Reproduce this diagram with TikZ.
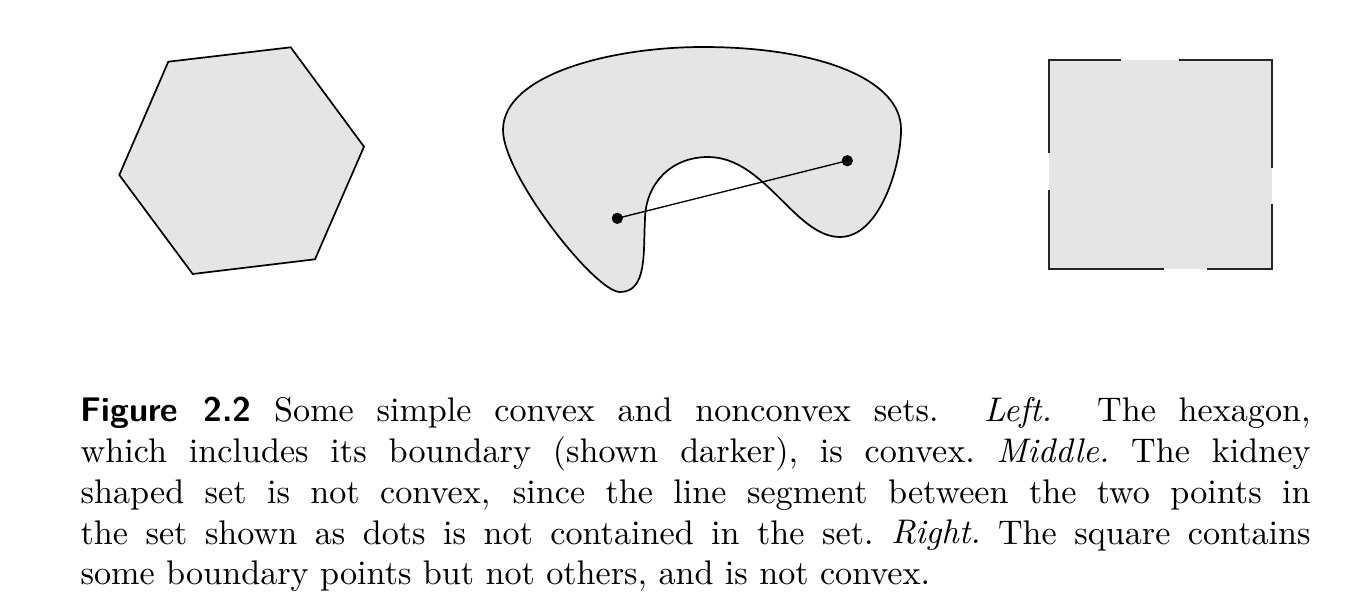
\documentclass[tikz,border=0pt]{standalone}
\usepackage{tikz}
\begin{document}
\begin{tikzpicture}[x=0.2927pt,y=-0.2927pt,
  setfill/.style={fill=black!10},
  outline/.style={draw=black,line width=0.5pt,line join=miter},
  sqedge/.style={draw=black!85,line width=0.55pt},
  dot/.style={circle,fill=black,inner sep=0pt,minimum size=3.3pt},
  segline/.style={draw=black,line width=0.4pt}]
\useasboundingbox (0,0) rectangle (1350,606);
% hexagon
\path[setfill,outline] (168.3,61.7) -- (290.7,47.3) -- (364,146.7) -- (315,259.3) -- (192.7,274) -- (119.3,175) -- cycle;
% kidney
\path[setfill,outline] (703,47)
  .. controls (820,47) and (902,80) .. (901,130)
  .. controls (901,165) and (880,237) .. (840,237)
  .. controls (795,237) and (765,157) .. (708,157)
  .. controls (670,157) and (645,185) .. (645,220)
  .. controls (643,250) and (648,292) .. (620,292)
  .. controls (595,292) and (503,175) .. (503,130)
  .. controls (503,75) and (610,47) .. (703,47) -- cycle;
\node[dot] (p1) at (617.3,218.3) {};
\node[dot] (p2) at (847.3,160.7) {};
\draw[segline] (p1.center) -- (p2.center);
% square
\fill[black!10] (1049,60) rectangle (1272,269);
\coordinate (tl) at (1049,60);
\coordinate (tr) at (1272,60);
\coordinate (bl) at (1049,269);
\coordinate (br) at (1272,269);
\coordinate (t1) at (1120.7,60);
\coordinate (t2) at (1178.7,60);
\coordinate (l1) at (1049,153.3);
\coordinate (l2) at (1049,190);
\coordinate (r1) at (1272,167.7);
\coordinate (r2) at (1272,204);
\coordinate (b1) at (1164.3,269);
\coordinate (b2) at (1207.3,269);
\draw[sqedge] (l1) -- (tl) -- (t1);
\draw[sqedge] (t2) -- (tr) -- (r1);
\draw[sqedge] (r2) -- (br) -- (b2);
\draw[sqedge] (b1) -- (bl) -- (l2);
% caption
\node[anchor=base west,inner sep=0pt] (cap) at (80,421) {\parbox[t]{360pt}{\fontsize{10}{12}\selectfont\parindent=0pt
\makebox[360pt][s]{\textsf{\bfseries Figure 2.2} Some simple convex and nonconvex sets.\ \ \textit{Left.}\ \ The hexagon,}\\
\makebox[360pt][s]{\frenchspacing which includes its boundary (shown darker), is convex. \textit{Middle.} The kidney}\\
\makebox[360pt][s]{shaped set is not convex, since the line segment between the two points in}\\
\makebox[360pt][s]{\frenchspacing the set shown as dots is not contained in the set. \textit{Right.} The square contains}\\
some boundary points but not others, and is not convex.}};
\end{tikzpicture}
\end{document}
